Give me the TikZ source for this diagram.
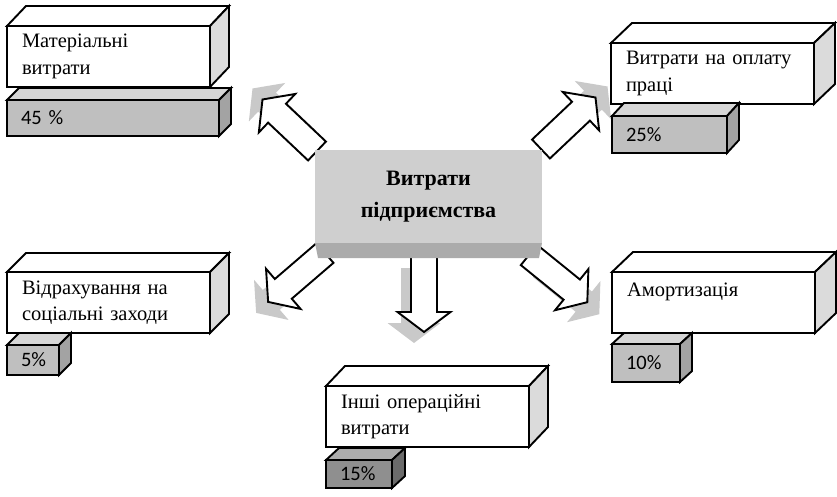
\documentclass[tikz,border=0pt]{standalone}
\usepackage{fontspec}
\setmainfont{Liberation Serif}
\newfontfamily\pctfont{Carlito}

% top face and side face of a box drawn behind node #1, depth (#2,#3)
\newcommand{\cuboid}[5]{%
    \draw[face, fill=#4] (#1.north west) -- ++(#2,#3) -- ([shift={(#2,#3)}]#1.north east) -- (#1.north east) -- cycle;
    \draw[face, fill=#5] (#1.north east) -- ([shift={(#2,#3)}]#1.north east) -- ([shift={(#2,#3)}]#1.south east) -- (#1.south east) -- cycle;
}

\tikzset{
    face/.style={draw, line width=1.9pt, line join=miter},
    labelbox/.style={face, fill=white, anchor=north west, outer sep=0pt,
        minimum width=203pt, minimum height=61pt, text width=173pt,
        inner xsep=15pt, inner ysep=0pt, align=left,
        font=\fontsize{20.5}{26.5}\selectfont},
    pctbox/.style={face, fill=gray!50, anchor=north west, outer sep=0pt,
        inner xsep=14pt, inner ysep=0pt, align=left,
        font=\pctfont\fontsize{20.5}{24}\selectfont},
    corebox/.style={fill=gray!38, minimum width=227pt, minimum height=93pt,
        outer sep=0pt, align=center, font=\bfseries\fontsize{22}{31.5}\selectfont},
    blockarrow/.style={draw, fill=white, line width=1.9pt, line join=miter},
    arrowshadow/.style={fill=gray!42}
}

\begin{document}
\begin{tikzpicture}[x=1pt, y=-1pt]
    \useasboundingbox (0,0) rectangle (837,497);

    % arrows: tail x / tail y / angle / shadow shift
    \foreach \tx/\ty/\ang/\sx/\sy in {317/151/136.6/-10/-11, 541/149/43.4/12/-11,
            325/253/-139.3/-12/11, 529/255/-39/12/12, 424/257/-90/-10/11} {
        \fill[arrowshadow, shift={(\sx,\sy)}, shift={(\tx,\ty)}, rotate=\ang]
            (0,-13) -- (55,-13) -- (55,-26.5) -- (75,0) -- (55,26.5) -- (55,13) -- (0,13) -- cycle;
        \draw[blockarrow, shift={(\tx,\ty)}, rotate=\ang]
            (0,-13) -- (55,-13) -- (55,-26.5) -- (75,0) -- (55,26.5) -- (55,13) -- (0,13) -- cycle;
    }

    % centre
    \node[corebox] (core) at (428.5,196.5) {Витрати\\підприємства};
    \fill[gray!66] (core.south west) -- (core.south east) -- ++(-3,15) -- ([shift={(3,15)}]core.south west) -- cycle;

    % cost items
    \node[labelbox] (mat) at (7,26) {Матеріальні\\витрати};
    \cuboid{mat}{19}{-20}{white}{gray!28}
    \node[pctbox, minimum height=36pt, text width=184pt] (matp) at (7,100) {45 \%};
    \cuboid{matp}{12}{-12}{gray!32}{gray!72}

    \node[labelbox] (pay) at (611,43) {Витрати на оплату\\праці};
    \cuboid{pay}{21}{-20}{white}{gray!28}
    \node[pctbox, minimum height=37pt, text width=87pt] (payp) at (612,116) {25\%};
    \cuboid{payp}{12}{-13}{gray!32}{gray!72}

    \node[labelbox] (soc) at (7,272) {Відрахування на\\соціальні заходи};
    \cuboid{soc}{19}{-19}{white}{gray!28}
    \node[pctbox, minimum height=30pt, text width=24pt] (socp) at (7,345) {5\%};
    \cuboid{socp}{12}{-12}{gray!32}{gray!72}

    \node[labelbox] (other) at (326,386) {Інші операційні\\витрати};
    \cuboid{other}{19}{-20}{white}{gray!28}
    \node[pctbox, fill=gray!88, minimum height=28pt, text width=38pt] (otherp) at (326,460) {15\%};
    \cuboid{otherp}{13}{-12}{gray!65}{black!58}

    \node[labelbox] (amort) at (612,272) {Амортизація\\\mbox{}};
    \cuboid{amort}{21}{-20}{white}{gray!28}
    \node[pctbox, minimum height=38pt, text width=40pt] (amortp) at (612,344) {10\%};
    \cuboid{amortp}{12}{-11}{gray!32}{gray!72}
\end{tikzpicture}
\end{document}
